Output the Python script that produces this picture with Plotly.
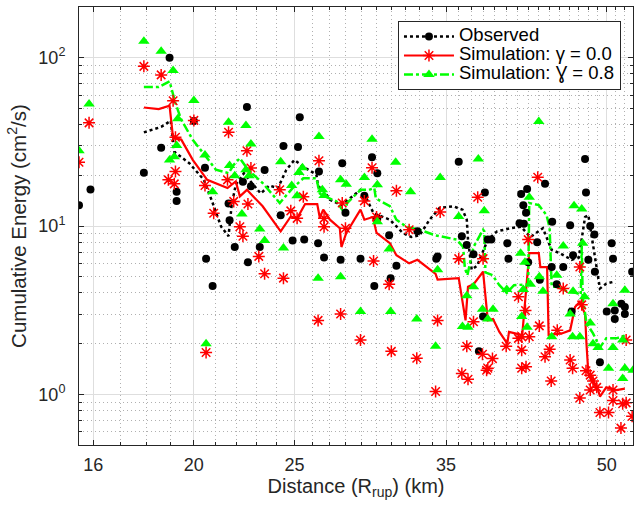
import math
import plotly.graph_objects as go

# ---------------- data ----------------
obs_dist = [15.5, 15.9, 17.9, 18.6, 18.95, 19.25, 19.25, 20.0, 20.5, 20.55, 20.85, 21.6, 21.65, 21.9, 22.3,
            22.5, 22.7, 22.55, 23.15, 23.4, 24.25, 24.4, 24.9, 25.2, 25.3, 25.55, 26.35, 26.4, 26.7, 27.8,
            27.7, 28.0, 28.95, 29.2, 29.7, 29.85, 30.05, 30.05, 30.85, 30.95, 31.35, 32.85, 34.25, 34.35,
            36.0, 36.25, 36.65, 37.2, 37.65, 38.0, 38.15, 38.4, 38.7, 40.1, 40.2, 41.2, 41.35, 41.6, 41.55,
            41.8, 41.9, 42.0, 42.85, 43.1, 43.6, 44.25, 44.3, 44.75, 45.4, 46.1, 46.25, 46.4, 47.65, 47.75,
            48.0, 48.2, 48.65, 48.7, 49.25, 50.0, 50.55, 50.7, 50.9, 50.9, 51.65, 52.05, 52.05, 52.9]
obs_energy = [13.3, 16.5, 20.7, 29.2, 100, 16.0, 14.1, 42, 22.2, 6.4, 4.4, 13.6, 10.8, 7.5, 18.3,
              51, 17.2, 6.1, 7.5, 21.5, 11.6, 29.9, 8.2, 29.5, 44.2, 8.3, 7.9, 21.1, 6.5, 23.6,
              6.3, 12.0, 6.4, 15.1, 25.6, 4.4, 20.6, 11.1, 8.8, 4.9, 5.8, 9.3, 6.4, 6.6,
              24.1, 8.7, 7.7, 6.8, 1.8, 2.9, 15.8, 8.3, 8.3, 7.9, 6.4, 10.4, 15.5, 10.3, 13.3,
              12.0, 16.6, 6.1, 8.0, 4.8, 17.8, 5.7, 10.6, 4.5, 5.7, 10.1, 3.1, 6.7, 25.0, 15.8,
              6.3, 10.0, 8.9, 5.35, 1.55, 3.1, 7.9, 6.4, 3.15, 2.8, 3.45, 3.3, 3.0, 5.35]

sim00_dist = [15.5, 15.85, 17.9, 18.6, 19.1, 20.0, 19.2, 19.2, 18.9, 19.15, 20.5, 20.9, 20.55, 21.6, 21.55,
              21.85, 22.15, 22.3, 22.5, 22.7, 22.55, 23.1, 23.4, 24.2, 24.4, 24.8, 25.15, 25.5, 26.4, 26.35,
              26.7, 26.7, 27.8, 28.0, 27.7, 28.95, 29.2, 29.7, 29.8, 30.0, 30.85, 31.0, 31.35, 32.25, 32.8,
              34.2, 34.35, 34.55, 36.0, 36.25, 36.65, 36.75, 37.2, 37.55, 37.95, 38.0, 38.3, 38.8, 38.4,
              40.0, 41.1, 41.75, 41.1, 41.4, 42.1, 41.4, 41.4, 41.8, 42.0, 42.9, 43.05, 43.6, 44.05, 44.2,
              44.8, 45.4, 46.1, 46.35, 47.1, 47.3, 47.1, 47.75, 48.2, 48.5, 48.2, 48.9, 49.25, 50.2, 50.7,
              50.7, 51.6, 51.8, 52.2, 52.9, 52.2]
sim00_energy = [23.9, 41, 88.8, 79, 55.5, 42.4, 33.7, 21.1, 18.8, 17.8, 17.4, 11.9, 1.77, 36.1, 18.8,
                14.0, 9.9, 8.7, 28, 22.1, 13.5, 6.6, 5.2, 16.4, 4.9, 12.3, 11.1, 14.9, 24.4, 2.75,
                9.9, 11.1, 13.7, 9.7, 3.0, 2.1, 14.1, 22.2, 6.2, 11.3, 4.5, 1.8, 16.2, 9.5, 1.64,
                1.04, 2.75, 12.1, 6.4, 1.33, 1.93, 1.23, 2.7, 14.8, 1.73, 6.4, 1.39, 1.63, 1.43,
                1.93, 3.8, 3.15, 2.15, 2.2, 2.2, 1.83, 1.43, 1.46, 8.3, 19.5, 2.55, 1.67, 1.85, 1.2,
                2.4, 4.25, 1.6, 1.43, 5.7, 3.4, 0.95, 1.38, 1.3, 1.2, 1.06, 1.1, 0.78, 0.78, 0.92,
                1.06, 0.63, 0.88, 2.1, 0.74, 0.89]

sim08_dist = [15.5, 15.85, 17.9, 18.6, 19.1, 20.0, 19.3, 19.25, 18.95, 19.15, 20.5, 20.85, 20.55, 21.6, 21.65,
              21.9, 22.45, 22.7, 22.45, 22.6, 22.25, 23.15, 23.4, 24.4, 24.25, 24.85, 25.15, 25.25, 25.45,
              26.4, 26.6, 26.7, 26.35, 27.7, 28.05, 27.7, 28.95, 29.2, 29.7, 30.05, 30.05, 30.85, 30.95,
              31.3, 32.35, 32.8, 34.2, 34.35, 34.55, 36.0, 36.3, 36.65, 36.75, 37.2, 37.6, 38.1, 37.95,
              38.4, 38.85, 40.05, 41.3, 41.4, 41.55, 41.7, 41.9, 42.1, 42.2, 43.0, 43.05, 43.4, 44.25,
              44.75, 45.4, 46.1, 46.35, 46.4, 46.5, 47.1, 47.3, 47.4, 47.6, 48.2, 48.5, 49.05, 50.2,
              50.7, 50.7, 51.8, 52.05, 52.05, 51.8, 53.0]
sim08_energy = [28, 53, 125, 109, 84, 55.7, 43.4, 30.1, 24.7, 25.8, 26.4, 16.0, 2.0, 41.4, 22.9,
                19.9, 39.5, 30.7, 21.6, 19.9, 11.8, 9.6, 8.2, 7.4, 24.1, 17.4, 15.1, 20.8, 22.2,
                34, 16.4, 15.2, 4.9, 18.8, 17.7, 5.0, 3.1, 19.4, 32.8, 17.6, 10.6, 7.3, 3.1,
                23.9, 16.0, 2.8, 1.93, 5.5, 19.4, 11.4, 2.53, 3.85, 2.5, 4.35, 25, 12.3, 3.2,
                2.8, 3.2, 4.2, 6.9, 2.9, 4.2, 6.1, 2.5, 14.8, 4.5, 41.8, 5.0, 4.1, 2.2,
                5.1, 7.6, 3.0, 2.2, 4.1, 13.2, 2.2, 12.6, 7.9, 3.8, 2.65, 2.0, 1.9, 1.43,
                3.45, 1.9, 2.1, 4.15, 1.43, 1.24, 1.39]

obs_trend_dist = [17.9, 18.6, 19.0, 19.15, 19.8, 20.45, 20.8, 21.25, 21.6, 21.75, 21.95, 22.35, 22.75, 23.2,
                  23.65, 24.1, 24.55, 25.0, 25.5, 26.25, 26.35, 26.65, 27.05, 27.75, 28.95, 29.2, 29.8,
                  30.9, 31.8, 32.4, 33.0, 33.75, 34.5, 35.55, 36.3, 36.65, 36.75, 37.05, 37.5, 38.0,
                  38.4, 39.2, 40.4, 41.35, 42.2, 43.4, 44.25, 45.05, 46.25, 47.0, 47.65, 48.0, 48.2,
                  48.7, 49.25, 49.95, 50.7]
obs_trend_energy = [36, 38.8, 42.2, 27.6, 23.6, 18.8, 14.3, 9.9, 8.7, 13.3, 17.6, 20.6, 18.0, 15.6,
                    17.4, 16.8, 21.5, 24.7, 22.5, 20.2, 17.2, 16.4, 14.3, 13.3, 16.4, 15.5, 11.9,
                    10.9, 9.1, 8.6, 8.8, 10.9, 12.8, 13.1, 12.5, 10.9, 8.3, 5.5, 5.8, 7.2,
                    8.3, 9.3, 9.7, 9.9, 8.6, 9.7, 7.2, 6.9, 6.3, 6.5, 11.3, 11.6, 9.9,
                    6.3, 4.25, 4.55, 4.65]

sim00_trend_dist = [17.9, 18.5, 18.95, 19.1, 19.45, 19.95, 20.6, 21.55, 21.95, 22.15, 22.5, 23.3, 24.25,
                    24.8, 25.15, 25.6, 26.3, 26.45, 26.65, 27.05, 27.65, 27.75, 28.05, 28.95, 29.2,
                    29.75, 30.0, 30.9, 31.35, 32.25, 32.85, 34.2, 34.35, 36.0, 36.55, 36.75, 37.2,
                    38.0, 38.4, 38.85, 39.4, 40.1, 40.25, 41.45, 42.1, 43.0, 43.15, 43.8, 43.95,
                    45.25, 46.1, 46.35, 46.6, 47.1, 47.65, 47.8, 48.0, 48.5, 49.05, 49.25, 49.95,
                    51.1, 52.05]
sim00_trend_energy = [50.6, 49.5, 51.8, 33.3, 32.6, 24.7, 18.8, 16.8, 18.4, 15.0, 16.4, 13.1, 9.3,
                      11.4, 11.1, 13.5, 13.5, 11.2, 12.5, 10.9, 9.7, 7.5, 9.1, 12.5, 10.9,
                      11.3, 9.1, 7.9, 6.7, 6.0, 6.3, 5.2, 4.8, 4.9, 2.75, 4.35, 4.5,
                      5.35, 2.75, 2.8, 2.35, 2.0, 2.35, 2.25, 6.9, 6.9, 5.7, 5.7, 2.25,
                      2.3, 2.4, 2.9, 3.3, 3.55, 3.0, 2.0, 1.33, 1.2, 1.06, 0.97, 1.1,
                      1.06, 1.08]

sim08_trend_dist = [17.9, 18.5, 18.95, 19.2, 19.45, 19.95, 20.55, 21.0, 21.6, 21.85, 22.15, 22.55, 23.3,
                    24.2, 24.9, 25.5, 26.25, 26.45, 26.75, 27.45, 27.95, 28.1, 28.95, 29.5, 29.85,
                    29.95, 30.9, 31.35, 32.05, 33.0, 34.2, 35.85, 36.35, 36.5, 36.7, 37.2, 38.0,
                    38.1, 38.2, 38.8, 39.4, 40.05, 40.7, 41.7, 42.0, 42.1, 43.0, 43.75, 44.05,
                    44.25, 44.75, 45.75, 46.75, 47.2, 47.3, 47.4, 47.8, 48.5, 49.25, 49.95, 51.1, 52.2]
sim08_trend_energy = [67, 67, 72.3, 53.7, 42.8, 32.5, 25.8, 21.6, 20.6, 23.1, 25.3, 21.6, 18.0,
                      13.7, 16.8, 19.2, 19.2, 15.6, 15.0, 14.0, 11.9, 13.7, 16.4, 16.4, 16.8,
                      14.6, 13.1, 10.9, 9.9, 9.5, 8.8, 8.3, 7.5, 5.6, 5.1, 7.5, 9.5,
                      9.3, 5.3, 5.1, 4.45, 4.0, 4.45, 4.5, 4.5, 13.7, 13.3, 11.6, 9.7,
                      4.35, 4.35, 4.1, 4.0, 3.9, 7.6, 3.8, 2.65, 2.3, 1.9, 2.15, 2.15, 2.25]

x_tick_vals = [16, 20, 25, 35, 50]
x_tick_text = ["16", "20", "25", "35", "50"]
y_tick_vals = [1, 10, 100]
y_tick_text = ["10<sup>0</sup>", "10<sup>1</sup>", "10<sup>2</sup>"]
legend_names = ["Observed", "Simulation: γ = 0.0", "Simulation: Ɣ = 0.8"]

# ---------------- styles ----------------
BLACK = "#000000"
RED = "#ff0000"
GREEN = "#00ff00"
AXC = "#262626"
FONT = "Liberation Sans, Arial, Helvetica, sans-serif"

line_styles = [dict(color=BLACK, width=2.5, dash="dot"),
               dict(color=RED, width=2.2),
               dict(color=GREEN, width=2.5, dash="dashdot")]
marker_styles = [dict(symbol="circle", size=8, color=BLACK),
                 dict(symbol="asterisk-open", size=10, color=RED, line=dict(color=RED, width=1.5)),
                 dict(symbol="triangle-up", size=10, color=GREEN, line=dict(width=0))]

fig = go.Figure()

trends = [(obs_trend_dist, obs_trend_energy), (sim00_trend_dist, sim00_trend_energy),
          (sim08_trend_dist, sim08_trend_energy)]
scatters = [(obs_dist, obs_energy), (sim00_dist, sim00_energy), (sim08_dist, sim08_energy)]

for (xd, yd), ls in zip(trends, line_styles):
    fig.add_trace(go.Scatter(x=xd, y=yd, mode="lines", line=ls, showlegend=False, hoverinfo="skip"))

for (xd, yd), ms in zip(scatters, marker_styles):
    fig.add_trace(go.Scatter(x=xd, y=yd, mode="markers", marker=ms, showlegend=False))

for name, ls, ms in zip(legend_names, line_styles, marker_styles):
    fig.add_trace(go.Scatter(x=[None], y=[None], mode="lines+markers",
                             name='<span style="font-size:18.5px">' + name + '</span>',
                             line=ls, marker=ms, showlegend=True))

x_minor = [v for v in range(16, 54) if v not in x_tick_vals]
y_minor = [m * 10 ** e for e in (-1, 0, 1, 2) for m in range(2, 10)
           if 0.5 <= m * 10 ** e <= 200]

axis_common = dict(
    type="log", showline=True, linecolor=AXC, linewidth=1, mirror="ticks",
    ticks="inside", ticklen=5, tickcolor=AXC, tickwidth=1, automargin=False,
    showgrid=True, gridcolor="#dedede", gridwidth=1, zeroline=False,
    tickfont=dict(size=18, color=AXC, family=FONT),
)
minor_common = dict(tickmode="array", ticks="inside", ticklen=3, tickcolor=AXC,
                    showgrid=True, gridcolor="#b0b0b0", griddash="1px,3px", gridwidth=1)

fig.update_layout(
    width=634, height=506,
    margin=dict(l=79, r=1, t=7, b=61, autoexpand=False),
    paper_bgcolor="white", plot_bgcolor="white",
    font=dict(family=FONT, color=AXC, size=18),
    xaxis=dict(**axis_common,
               range=[math.log10(15.5), math.log10(53)],
               tickmode="array", tickvals=x_tick_vals, ticktext=x_tick_text,
               ticklabelstandoff=3,
               minor=dict(**minor_common, tickvals=x_minor),
               title=dict(text="Distance (R<sub>rup</sub>) (km)", font=dict(size=20, color=AXC),
                          standoff=4)),
    yaxis=dict(**axis_common,
               range=[math.log10(0.5), math.log10(200)],
               tickmode="array", tickvals=y_tick_vals, ticktext=y_tick_text,
               ticklabelstandoff=9,
               minor=dict(**minor_common, tickvals=y_minor),
               title=dict(text="Cumulative Energy (cm<sup>2</sup>/s)", font=dict(size=20.5, color=AXC),
                          standoff=6)),
    legend=dict(x=0.9783, y=0.968, xanchor="right", yanchor="top",
                bgcolor="white", bordercolor=AXC, borderwidth=1,
                font=dict(size=11.5, color="#000000", family=FONT),
                tracegroupgap=0, itemwidth=50),
    showlegend=True,
)

fig.write_html("out.html", config={"displayModeBar": False},
               post_script="document.body.style.margin='0px';document.body.style.padding='0px';")
